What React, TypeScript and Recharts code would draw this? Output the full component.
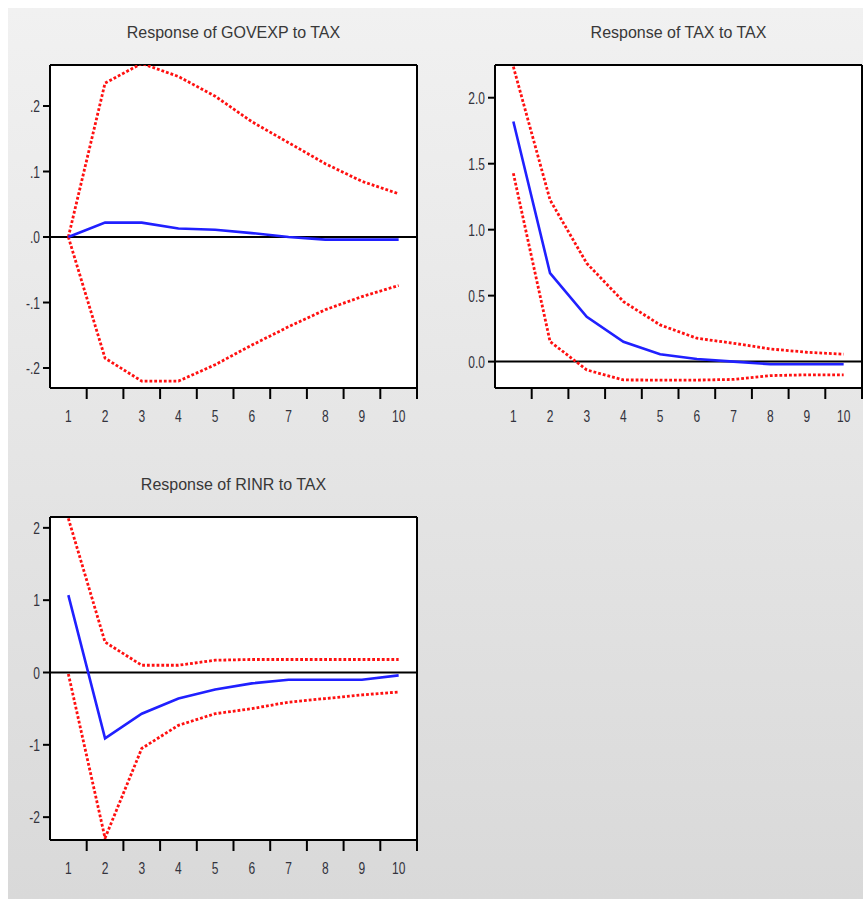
import { LineChart, Line, XAxis, YAxis, CartesianGrid, ReferenceLine } from 'recharts';

const periods = [1, 2, 3, 4, 5, 6, 7, 8, 9, 10];

// Response of GOVEXP to TAX
const govexpResp = [0, 0.022, 0.022, 0.013, 0.011, 0.006, 0, -0.004, -0.004, -0.004];
const govexpUpper = [0, 0.235, 0.265, 0.245, 0.215, 0.176, 0.144, 0.112, 0.085, 0.066];
const govexpLower = [0, -0.185, -0.22, -0.22, -0.195, -0.165, -0.137, -0.111, -0.091, -0.074];
const govexpTicks = [-0.2, -0.1, 0, 0.1, 0.2];

// Response of TAX to TAX
const taxResp = [1.82, 0.67, 0.34, 0.15, 0.056, 0.02, 0, -0.02, -0.02, -0.02];
const taxUpper = [2.235, 1.225, 0.745, 0.455, 0.278, 0.177, 0.139, 0.096, 0.071, 0.056];
const taxLower = [1.427, 0.152, -0.063, -0.139, -0.14, -0.14, -0.135, -0.106, -0.1, -0.1];
const taxTicks = [0, 0.5, 1, 1.5, 2];

// Response of RINR to TAX
const rinrResp = [1.07, -0.91, -0.57, -0.36, -0.235, -0.15, -0.1, -0.1, -0.1, -0.04];
const rinrUpper = [2.13, 0.42, 0.1, 0.1, 0.17, 0.18, 0.18, 0.18, 0.18, 0.18];
const rinrLower = [-0.02, -2.29, -1.05, -0.73, -0.57, -0.5, -0.41, -0.36, -0.31, -0.27];
const rinrTicks = [-2, -1, 0, 1, 2];

const fmtGovexp = (v: number) => {
  const s = Math.abs(v).toFixed(1).replace(/^0/, '');
  return v < 0 ? '-' + s : s;
};
const fmtTax = (v: number) => v.toFixed(1);
const fmtRinr = (v: number) => String(v);

const FONT = '"Liberation Sans", Arial, sans-serif';
const TICK_COLOR = '#33333d';
const Y_W = 42;

function StretchText({ x, y, anchor, dy, children }: any) {
  return (
    <g transform={`translate(${x},${y}) scale(1,1.45)`}>
      <text x={0} y={0} dy={dy} textAnchor={anchor} fontSize={12} fontFamily={FONT} fill={TICK_COLOR}>
        {children}
      </text>
    </g>
  );
}

// x label sits at the period centre, the tick mark at the boundary to its right
function PeriodTick(props: any) {
  const { x, y, payload, half } = props;
  return (
    <g>
      <line x1={x + half} x2={x + half} y1={y} y2={y + 11} stroke="#000" strokeWidth={2} />
      <StretchText x={x} y={y + 22} anchor="middle" dy="0.71em">
        {payload.value}
      </StretchText>
    </g>
  );
}

type PanelProps = {
  title: string;
  resp: number[];
  upper: number[];
  lower: number[];
  domain: [number, number];
  ticks: number[];
  fmt: (v: number) => string;
  left: number;
  top: number;
  width: number;
  height: number;
  margin: { top: number; right: number; bottom: number; left: number };
};

function Panel({ title, resp, upper, lower, domain, ticks, fmt, left, top, width, height, margin }: PanelProps) {
  const data = periods.map((p, i) => ({ period: p, resp: resp[i], upper: upper[i], lower: lower[i] }));
  const plotLeft = margin.left + Y_W;
  const plotWidth = width - plotLeft - margin.right;
  const half = plotWidth / periods.length / 2;
  const black = { stroke: '#000', strokeWidth: 2 };
  return (
    <div style={{ position: 'absolute', left, top, width, height }}>
      <div
        style={{
          position: 'absolute',
          left: plotLeft,
          width: plotWidth,
          top: margin.top - 42,
          textAlign: 'center',
          fontFamily: FONT,
          fontSize: 16,
          lineHeight: '20px',
          color: '#383838',
        }}
      >
        {title}
      </div>
      <LineChart width={width} height={height} data={data} margin={margin}>
        <CartesianGrid horizontal={false} vertical={false} fill="#fff" fillOpacity={1} />
        <XAxis
          type="number"
          dataKey="period"
          domain={[0.5, 10.5]}
          ticks={periods}
          interval={0}
          height={40}
          tickSize={0}
          tickMargin={0}
          axisLine={black}
          tickLine={false}
          tick={(p: any) => <PeriodTick {...p} half={half} />}
        />
        <YAxis
          type="number"
          domain={domain}
          ticks={ticks}
          allowDataOverflow
          width={Y_W}
          tickSize={7}
          tickMargin={3}
          axisLine={black}
          tickLine={black}
          tick={(p: any) => (
            <StretchText x={p.x} y={p.y} anchor="end" dy="0.355em">
              {fmt(p.payload.value)}
            </StretchText>
          )}
        />
        <ReferenceLine y={domain[1]} stroke="#000" strokeWidth={2} />
        <ReferenceLine x={10.5} stroke="#000" strokeWidth={2} />
        <ReferenceLine y={0} stroke="#000" strokeWidth={2} />
        <Line type="linear" dataKey="upper" stroke="#ff1010" strokeWidth={2.8} strokeDasharray="2.8 2" dot={false} isAnimationActive={false} />
        <Line type="linear" dataKey="lower" stroke="#ff1010" strokeWidth={2.8} strokeDasharray="2.8 2" dot={false} isAnimationActive={false} />
        <Line type="linear" dataKey="resp" stroke="#2020ff" strokeWidth={2.6} dot={false} isAnimationActive={false} />
      </LineChart>
    </div>
  );
}

export default function App() {
  return (
    <div style={{ position: 'absolute', left: 0, top: 0, width: 863, height: 899, background: '#fff', overflow: 'hidden' }}>
      <div
        style={{
          position: 'absolute',
          left: 8,
          top: 8,
          width: 855,
          height: 891,
          background: 'linear-gradient(#f1f1f1, #d9d9d9)',
        }}
      />
      <Panel
        title="Response of GOVEXP to TAX"
        resp={govexpResp}
        upper={govexpUpper}
        lower={govexpLower}
        domain={[-0.2305, 0.2626]}
        ticks={govexpTicks}
        fmt={fmtGovexp}
        left={0}
        top={0}
        width={430}
        height={440}
        margin={{ top: 65, right: 13, bottom: 12, left: 8 }}
      />
      <Panel
        title="Response of TAX to TAX"
        resp={taxResp}
        upper={taxUpper}
        lower={taxLower}
        domain={[-0.2, 2.248]}
        ticks={taxTicks}
        fmt={fmtTax}
        left={445}
        top={0}
        width={418}
        height={440}
        margin={{ top: 65, right: 1, bottom: 12, left: 8 }}
      />
      <Panel
        title="Response of RINR to TAX"
        resp={rinrResp}
        upper={rinrUpper}
        lower={rinrLower}
        domain={[-2.316, 2.15]}
        ticks={rinrTicks}
        fmt={fmtRinr}
        left={0}
        top={460}
        width={430}
        height={439}
        margin={{ top: 57, right: 13, bottom: 19, left: 8 }}
      />
    </div>
  );
}
